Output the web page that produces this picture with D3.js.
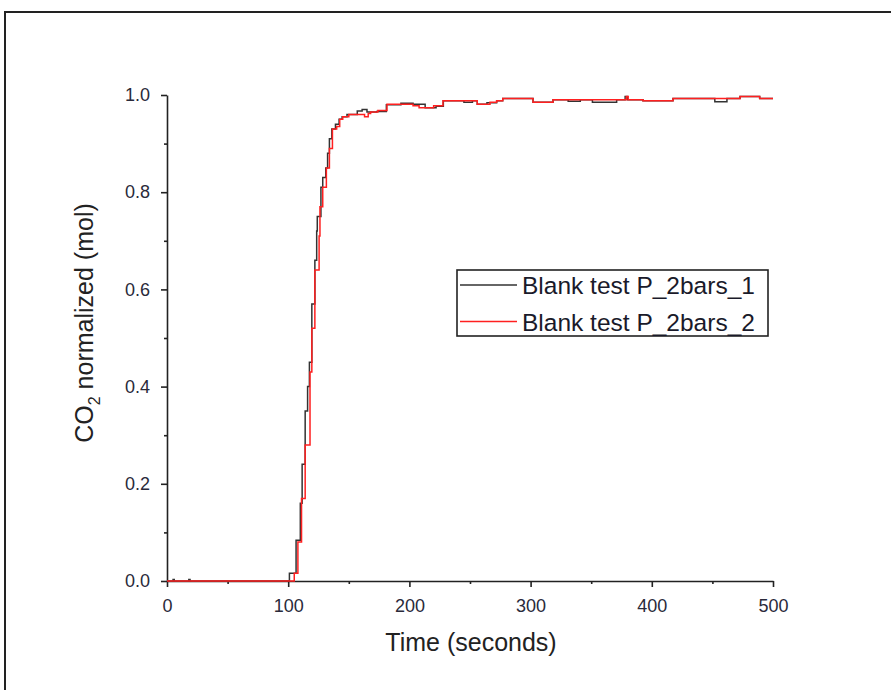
<!DOCTYPE html>
<html>
<head>
<meta charset="utf-8">
<script src="https://cdn.jsdelivr.net/npm/d3@7"></script>
<style>
  html, body { margin: 0; padding: 0; background: #fff; }
  svg { display: block; font-family: "Liberation Sans", Arial, sans-serif; }
</style>
</head>
<body>
<svg id="chart" width="891" height="690"></svg>
<script>
// series 1: Blank test P_2bars_1 (step changes: time in s, CO2 normalized)
const t1 = [0, 5, 6, 18, 19, 101, 106.5, 110, 111.5, 114, 116, 117.5, 119.5, 122, 123.5, 124, 127, 128.5, 131, 132.5, 134, 136, 139, 142, 144.5, 148.5, 157, 161, 165, 173, 181, 193, 203, 213, 222, 228, 245, 252, 256, 264, 272, 277, 302, 318.5, 331, 341, 351, 371, 378, 380, 392.7, 417.5, 452, 462, 472.8, 489, 500];
const v1 = [0, 0.003, 0, 0.003, 0, 0.016, 0.084, 0.16, 0.24, 0.35, 0.40, 0.45, 0.57, 0.66, 0.72, 0.75, 0.81, 0.83, 0.85, 0.88, 0.91, 0.93, 0.94, 0.95, 0.955, 0.96, 0.967, 0.97, 0.965, 0.966, 0.98, 0.983, 0.981, 0.974, 0.977, 0.988, 0.985, 0.988, 0.981, 0.984, 0.988, 0.993, 0.985, 0.99, 0.987, 0.99, 0.985, 0.99, 0.997, 0.99, 0.988, 0.993, 0.986, 0.993, 0.997, 0.993, 0.993];

// series 2: Blank test P_2bars_2
const t2 = [0, 105, 108, 111, 114, 118, 119.5, 122, 125.5, 126.2, 128.5, 131.5, 134, 136.5, 140, 142.5, 145, 150, 163, 166, 168, 174, 181.5, 203, 208, 220, 227.7, 256, 266.5, 272, 277, 302, 318.5, 379, 380.5, 392.7, 417.5, 472.8, 489, 500];
const v2 = [0, 0.016, 0.08, 0.17, 0.28, 0.43, 0.52, 0.64, 0.71, 0.77, 0.81, 0.85, 0.89, 0.93, 0.935, 0.95, 0.955, 0.96, 0.955, 0.962, 0.965, 0.968, 0.981, 0.978, 0.974, 0.978, 0.988, 0.981, 0.985, 0.988, 0.993, 0.985, 0.99, 0.997, 0.99, 0.988, 0.993, 0.997, 0.993, 0.993];

const seriesNames = ['Blank test P_2bars_1', 'Blank test P_2bars_2'];
const seriesColors = ['#333333', '#ff2020'];

const xMajor = [0, 100, 200, 300, 400, 500];
const xMinor = [50, 150, 250, 350, 450];
const yMajor = [0, 0.2, 0.4, 0.6, 0.8, 1.0];
const yMinor = [0.1, 0.3, 0.5, 0.7, 0.9];

const svg = d3.select('#chart');

// outer frame
svg.append('rect')
  .attr('x', 5).attr('y', 12).attr('width', 900).attr('height', 700)
  .attr('fill', 'none').attr('stroke', '#222').attr('stroke-width', 2);

const x = d3.scaleLinear().domain([0, 500]).range([167, 773]);
const y = d3.scaleLinear().domain([0, 1]).range([581, 95]);

const axisColor = '#222';
const tickFont = 18;

// x axis
const gx = svg.append('g').attr('transform', `translate(0,${y(0)})`);
gx.call(d3.axisBottom(x).tickValues(xMajor).tickFormat(d3.format('d')).tickSize(6).tickSizeOuter(0))
  .call(g => g.select('.domain').attr('stroke', axisColor).attr('stroke-width', 1.6))
  .call(g => g.selectAll('.tick line').attr('stroke', axisColor).attr('stroke-width', 1.6))
  .call(g => g.selectAll('.tick text').attr('fill', '#2a2a3a').attr('font-size', tickFont).attr('dy', '1.2em').attr('font-family', '"Liberation Sans", Arial, sans-serif'));
gx.append('g').call(d3.axisBottom(x).tickValues(xMinor).tickFormat('').tickSize(3).tickSizeOuter(0))
  .call(g => g.select('.domain').remove())
  .call(g => g.selectAll('.tick line').attr('stroke', axisColor).attr('stroke-width', 1.6));

// y axis
const gy = svg.append('g').attr('transform', `translate(${x(0)},0)`);
gy.call(d3.axisLeft(y).tickValues(yMajor).tickFormat(d3.format('.1f')).tickSize(6).tickSizeOuter(0))
  .call(g => g.select('.domain').attr('stroke', axisColor).attr('stroke-width', 1.6))
  .call(g => g.selectAll('.tick line').attr('stroke', axisColor).attr('stroke-width', 1.6))
  .call(g => g.selectAll('.tick text').attr('fill', '#2a2a3a').attr('font-size', tickFont).attr('dx', '-8').attr('font-family', '"Liberation Sans", Arial, sans-serif'));
gy.append('g').call(d3.axisLeft(y).tickValues(yMinor).tickFormat('').tickSize(3).tickSizeOuter(0))
  .call(g => g.select('.domain').remove())
  .call(g => g.selectAll('.tick line').attr('stroke', axisColor).attr('stroke-width', 1.6));

// axis titles
svg.append('text')
  .attr('x', 471).attr('y', 651)
  .attr('text-anchor', 'middle').attr('font-size', 25).attr('fill', '#222')
  .text('Time (seconds)');

const yt = svg.append('text')
  .attr('transform', `translate(93,323) rotate(-90)`)
  .attr('text-anchor', 'middle').attr('font-size', 25).attr('fill', '#222');
yt.append('tspan').text('CO');
yt.append('tspan').attr('font-size', 16).attr('dy', 7).text('2');
yt.append('tspan').attr('dy', -7).text(' normalized (mol)');

// curves
const data = [
  t1.map((t, i) => [t, v1[i]]),
  t2.map((t, i) => [t, v2[i]])
];
const line = d3.line().x(d => x(d[0])).y(d => y(d[1])).curve(d3.curveStepAfter);
data.forEach((d, i) => {
  svg.append('path').datum(d)
    .attr('d', line)
    .attr('fill', 'none')
    .attr('stroke', seriesColors[i])
    .attr('stroke-width', 1.5);
});

// legend
const lg = svg.append('g');
lg.append('rect')
  .attr('x', 457).attr('y', 270).attr('width', 311).attr('height', 66)
  .attr('fill', '#fff').attr('stroke', '#222').attr('stroke-width', 1.6);
seriesNames.forEach((name, i) => {
  const yy = 285 + i * 36.5;
  lg.append('line')
    .attr('x1', 460).attr('x2', 517).attr('y1', yy).attr('y2', yy)
    .attr('stroke', seriesColors[i]).attr('stroke-width', 1.5);
  lg.append('text')
    .attr('x', 522).attr('y', yy + 9)
    .attr('font-size', 24.5).attr('fill', '#1a1a2a')
    .text(name);
});
</script>
</body>
</html>
